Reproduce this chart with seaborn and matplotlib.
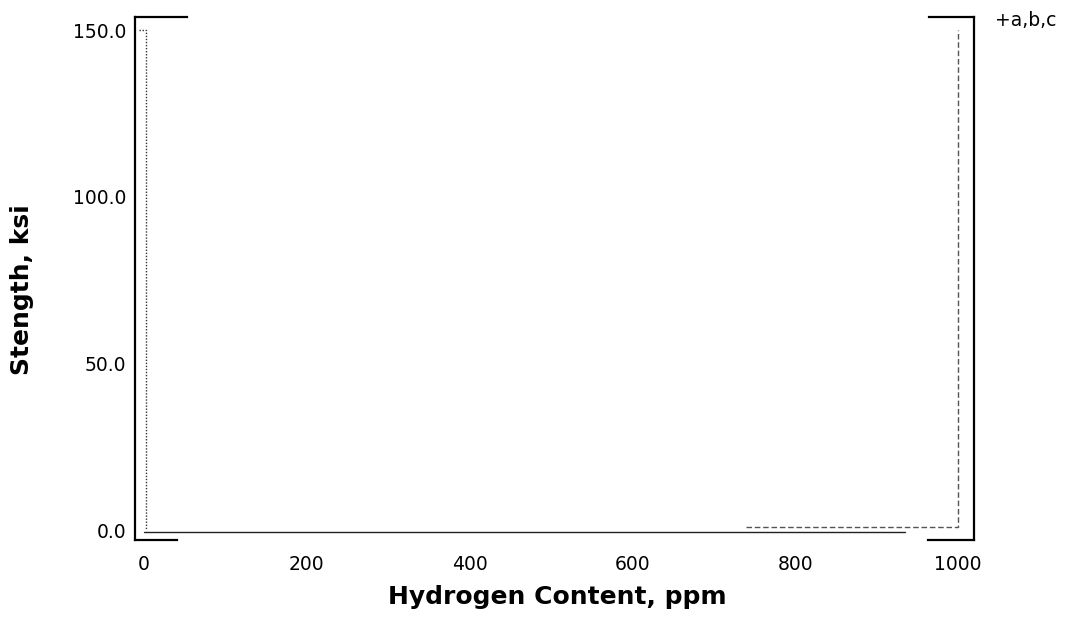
import numpy as np
import pandas as pd
import matplotlib
matplotlib.use('Agg')
import matplotlib.pyplot as plt
import seaborn as sns

# data
series_a_h = [-6, 2, 2]
series_a_s = [150, 150, 0]
series_b_h = [0, 935]
series_b_s = [-0.5, -0.5]
series_c_h = [740, 1000, 1000]
series_c_s = [1.0, 1.0, 150]

x_ticks = [0, 200, 400, 600, 800, 1000]
x_labels = ['0', '200', '400', '600', '800', '1000']
y_ticks = [0, 50, 100, 150]
y_labels = ['0.0', '50.0', '100.0', '150.0']

df = pd.concat([
    pd.DataFrame({'hydrogen': series_a_h, 'strength': series_a_s, 'series': 'a'}),
    pd.DataFrame({'hydrogen': series_b_h, 'strength': series_b_s, 'series': 'b'}),
    pd.DataFrame({'hydrogen': series_c_h, 'strength': series_c_s, 'series': 'c'}),
], ignore_index=True)

sns.set_style('white')
plt.rcParams['font.family'] = ['DejaVu Sans']
plt.rcParams['text.color'] = 'black'
plt.rcParams['xtick.color'] = 'black'
plt.rcParams['ytick.color'] = 'black'

W, H = 1066, 620
fig = plt.figure(figsize=(W / 100, H / 100), dpi=100)
ax = fig.add_axes([135 / W, 1 - 540 / H, (974 - 135) / W, (540 - 17) / H])

sns.lineplot(data=df, x='hydrogen', y='strength', hue='series', style='series',
             palette={'a': '#333333', 'b': '#222222', 'c': '#555555'},
             dashes={'a': (1, 1.2), 'b': '', 'c': (4, 2)},
             sort=False, estimator=None, linewidth=1.0, legend=False, ax=ax)

ax.set_xlim(-11, 1019.7)
ax.set_ylim(-3.0, 153.9)
ax.set_xticks(x_ticks)
ax.set_xticklabels(x_labels, fontsize=13.5)
ax.set_yticks(y_ticks)
ax.set_yticklabels(y_labels, fontsize=13.5)
ax.tick_params(axis='x', length=0, pad=11)
ax.tick_params(axis='y', length=0, pad=6.5)
ax.set_xlabel('')
ax.set_ylabel('')

# frame: full side lines, broken top and bottom
for side in ['left', 'right']:
    ax.spines[side].set_visible(True)
    ax.spines[side].set_color('black')
    ax.spines[side].set_linewidth(1.6)
ax.spines['top'].set_visible(False)
ax.spines['bottom'].set_visible(False)
for y, x0, x1 in [(1, 0, 0.062), (1, 0.946, 1), (0, 0, 0.050), (0, 0.945, 1)]:
    ax.plot([x0, x1], [y, y], transform=ax.transAxes, color='black',
            lw=1.6, clip_on=False, solid_capstyle='projecting')

fig.text(557 / W, 1 - 597 / H, 'Hydrogen Content, ppm', fontsize=18,
         fontweight='bold', ha='center', va='center')
fig.text(22 / W, 1 - 290 / H, 'Stength, ksi', fontsize=18, fontweight='bold',
         rotation=90, ha='center', va='center')
fig.text(995 / W, 1 - 20 / H, '+a,b,c', fontsize=13.5, ha='left', va='center')

fig.savefig('out.png', dpi=100)
